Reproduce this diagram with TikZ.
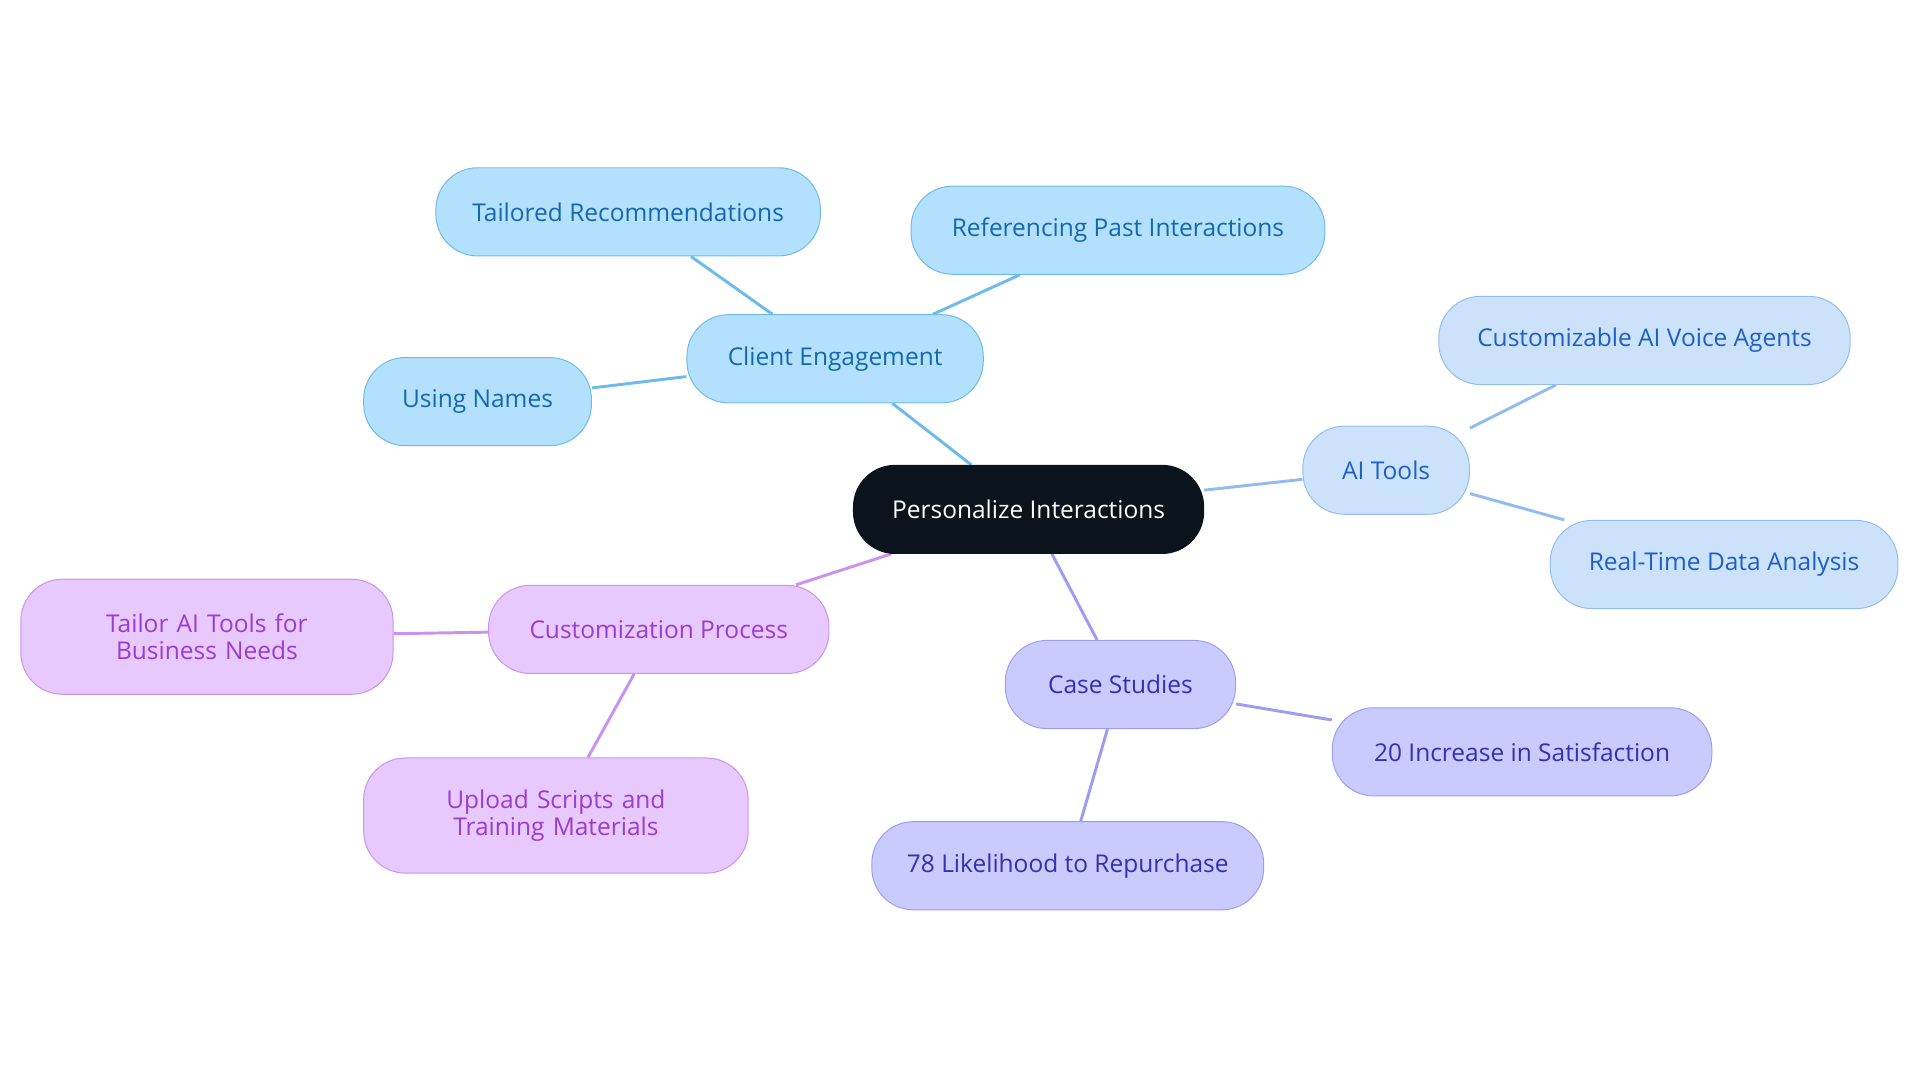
\documentclass[tikz,border=0pt]{standalone}
\usepackage{fontspec}
\setmainfont{Open Sans}
\usetikzlibrary{backgrounds}
\definecolor{rootfill}{HTML}{0B131C}
\definecolor{cefill}{HTML}{B3E0FD}\definecolor{celine}{HTML}{6DBAEB}\definecolor{cetext}{HTML}{1568AE}
\definecolor{aifill}{HTML}{CCE2FB}\definecolor{ailine}{HTML}{92BCEE}\definecolor{aitext}{HTML}{1D5FC6}
\definecolor{csfill}{HTML}{C9CAFD}\definecolor{csline}{HTML}{9C9DF0}\definecolor{cstext}{HTML}{3330B4}
\definecolor{cpfill}{HTML}{E8C9FD}\definecolor{cpline}{HTML}{C893EE}\definecolor{cptext}{HTML}{9A3BD2}
\tikzset{
  box/.style={rounded corners=17pt, minimum height=36pt, font=\fontsize{10}{11}\selectfont, align=center, inner sep=0pt},
  ce/.style={box, fill=cefill, draw=celine, text=cetext},
  ai/.style={box, fill=aifill, draw=ailine, text=aitext},
  cs/.style={box, fill=csfill, draw=csline, text=cstext},
  cp/.style={box, fill=cpfill, draw=cpline, text=cptext},
  link/.style={line width=1.2pt}
}
\begin{document}
\begin{tikzpicture}[x=0.5pt, y=-0.5pt]
\useasboundingbox (0,0) rectangle (1568,884);
% root
\node[box, fill=rootfill, draw=rootfill, text=white, minimum width=143pt] (root) at (840,416) {Personalize Interactions};
% client engagement
\node[ce, minimum width=121pt] (engage) at (682,293) {Client Engagement};
\node[ce, minimum width=157pt] (tailored) at (513,173) {Tailored Recommendations};
\node[ce, minimum width=169pt] (past) at (913,188) {Referencing Past Interactions};
\node[ce, minimum width=93pt] (names) at (390,328) {Using Names};
% ai tools
\node[ai, minimum width=68pt] (tools) at (1132,384) {AI Tools};
\node[ai, minimum width=168pt] (voice) at (1343,278) {Customizable AI Voice Agents};
\node[ai, minimum width=142pt] (realtime) at (1408,461) {Real-Time Data Analysis};
% case studies
\node[cs, minimum width=94pt] (cases) at (915,559) {Case Studies};
\node[cs, minimum width=155pt] (satisf) at (1243,614) {20 Increase in Satisfaction};
\node[cs, minimum width=160pt] (repurch) at (872,707) {78 Likelihood to Repurchase};
% customization
\node[cp, minimum width=139pt] (custom) at (538,514) {Customization Process};
\node[cp, minimum width=152pt, minimum height=47pt, text width=135pt] (needs) at (169,520) {Tailor AI Tools for Business Needs};
\node[cp, minimum width=157pt, minimum height=47pt, text width=135pt] (upload) at (454,666) {Upload Scripts and Training Materials};
\begin{scope}[on background layer]
\draw[link, celine] (root) -- (engage);
\draw[link, celine] (engage) -- (tailored);
\draw[link, celine] (engage) -- (past);
\draw[link, celine] (engage) -- (names);
\draw[link, ailine] (root) -- (tools);
\draw[link, ailine] (tools) -- (voice);
\draw[link, ailine] (tools) -- (realtime);
\draw[link, csline] (root) -- (cases);
\draw[link, csline] (cases) -- (satisf);
\draw[link, csline] (cases) -- (repurch);
\draw[link, cpline] (root) -- (custom);
\draw[link, cpline] (custom) -- (needs);
\draw[link, cpline] (custom) -- (upload);
\end{scope}
\end{tikzpicture}
\end{document}
